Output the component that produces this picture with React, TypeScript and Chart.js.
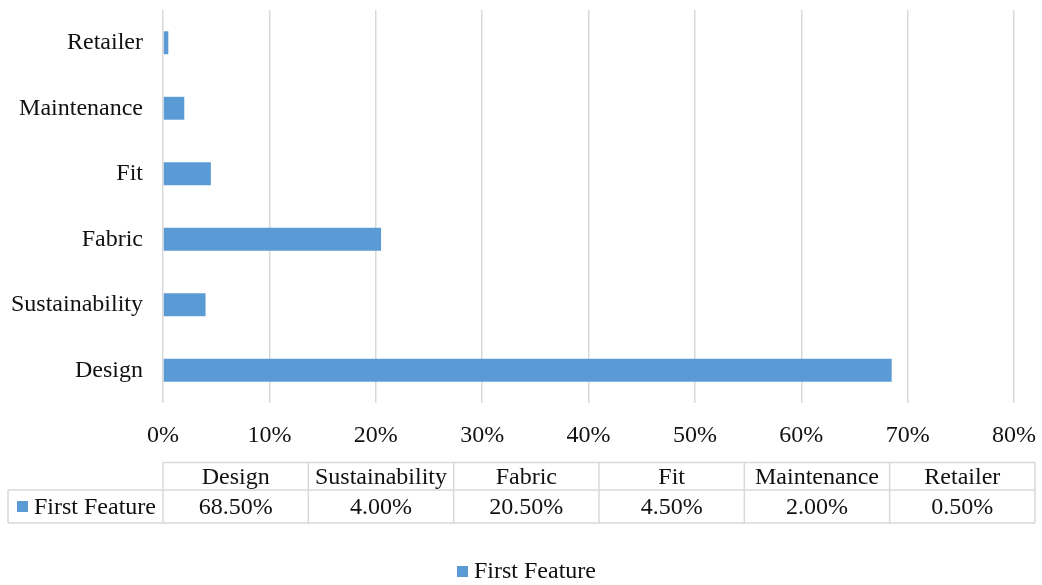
import React, { useEffect, useRef } from "react";
import { Chart, registerables } from "chart.js";

Chart.register(...registerables);

const categories: string[] = ["Design", "Sustainability", "Fabric", "Fit", "Maintenance", "Retailer"];
const seriesName = "First Feature";
const firstFeature: number[] = [68.5, 4.0, 20.5, 4.5, 2.0, 0.5];
const xMin = 0;
const xMax = 80;
const xStep = 10;

const FONT = "'Liberation Serif', 'Times New Roman', serif";
const FONT_SIZE = 24;
const TEXT = "#111111";
const BAR = "#5b9bd5";
const GRID = "#d9d9d9";

const tablePlugin = {
  id: "dataTableLegend",
  afterDraw(chart: any) {
    const ctx: CanvasRenderingContext2D = chart.ctx;
    const area = chart.chartArea;
    const left = area.left;
    const right = area.right + 21;
    const colW = (right - left) / categories.length;
    const top = 462.5;
    const mid = 490;
    const bottom = 523;
    const outerLeft = 8;

    ctx.save();
    ctx.strokeStyle = GRID;
    ctx.lineWidth = 1.5;
    ctx.beginPath();
    ctx.moveTo(left, top);
    ctx.lineTo(right, top);
    ctx.moveTo(outerLeft, mid);
    ctx.lineTo(right, mid);
    ctx.moveTo(outerLeft, bottom);
    ctx.lineTo(right, bottom);
    ctx.moveTo(outerLeft, mid);
    ctx.lineTo(outerLeft, bottom);
    for (let i = 0; i <= categories.length; i++) {
      const x = left + i * colW;
      ctx.moveTo(x, top);
      ctx.lineTo(x, bottom);
    }
    ctx.stroke();

    ctx.font = `${FONT_SIZE}px ${FONT}`;
    ctx.fillStyle = TEXT;
    ctx.textAlign = "center";
    ctx.textBaseline = "middle";
    categories.forEach((c, i) => {
      const cx = left + (i + 0.5) * colW;
      ctx.fillText(c, cx, (top + mid) / 2 + 1);
      ctx.fillText(firstFeature[i].toFixed(2) + "%", cx, (mid + bottom) / 2 + 1);
    });

    ctx.fillStyle = BAR;
    ctx.fillRect(17, 501, 11, 11);
    ctx.fillStyle = TEXT;
    ctx.textAlign = "left";
    ctx.fillText(seriesName, 34, (mid + bottom) / 2 + 1);

    ctx.fillStyle = BAR;
    ctx.fillRect(457, 566, 11, 11);
    ctx.fillStyle = TEXT;
    ctx.fillText(seriesName, 474, 572);
    ctx.restore();
  },
};

const zeroPad = (s: any) => {
  s.paddingTop = 0;
  s.paddingBottom = 0;
  s.paddingLeft = 0;
  s.paddingRight = 0;
};

export default function App() {
  const canvasRef = useRef<HTMLCanvasElement | null>(null);

  useEffect(() => {
    document.body.style.margin = "0";
    const canvas = canvasRef.current;
    if (!canvas) return;
    const chart = new Chart(canvas, {
      type: "bar",
      data: {
        labels: categories,
        datasets: [
          {
            label: seriesName,
            data: firstFeature,
            backgroundColor: BAR,
            borderWidth: 0,
            categoryPercentage: 1,
            barPercentage: 0.35,
          },
        ],
      },
      options: {
        indexAxis: "y",
        responsive: false,
        animation: false,
        layout: { padding: { top: 10, right: 28, bottom: 140, left: 0 } },
        plugins: {
          legend: { display: false },
          tooltip: { enabled: false },
        },
        scales: {
          x: {
            min: xMin,
            max: xMax,
            ticks: {
              stepSize: xStep,
              callback: (v: any) => `${v}%`,
              color: TEXT,
              font: { family: FONT, size: FONT_SIZE },
              padding: 18,
            },
            grid: { color: GRID, lineWidth: 1.5, drawTicks: false },
            border: { display: false },
            afterFit: (s: any) => {
              s.height = 42;
              zeroPad(s);
            },
          },
          y: {
            reverse: true,
            ticks: {
              color: TEXT,
              font: { family: FONT, size: FONT_SIZE },
              padding: 20,
            },
            grid: { display: false, drawTicks: false },
            border: { display: false },
            afterFit: (s: any) => {
              s.width = 163;
              zeroPad(s);
            },
          },
        },
      },
      plugins: [tablePlugin],
    });
    return () => chart.destroy();
  }, []);

  return (
    <div style={{ width: 1042, height: 585 }}>
      <canvas ref={canvasRef} width={1042} height={585} style={{ display: "block" }} />
    </div>
  );
}
